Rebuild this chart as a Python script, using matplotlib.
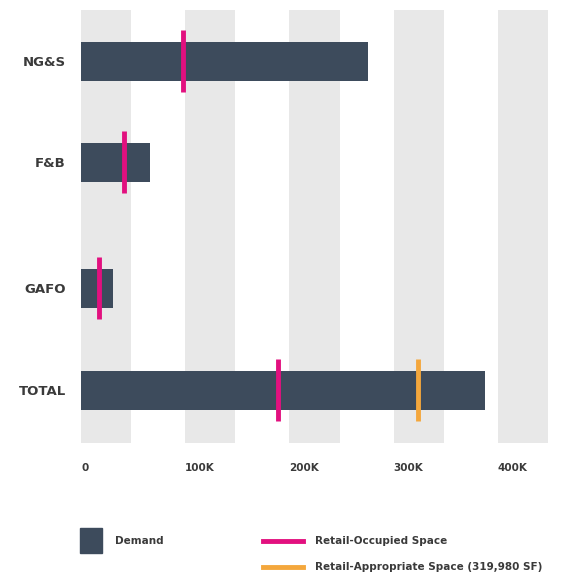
import matplotlib.pyplot as plt
from matplotlib.patches import Rectangle
from matplotlib.lines import Line2D

categories = ["NG&S", "F&B", "GAFO", "TOTAL"]
demand = [275000, 66000, 31000, 388000]
occupied = [98000, 41000, 17500, 189000]
appropriate_total = 323500  # marker as drawn (legend: 319,980 SF)
xticks = [0, 100000, 200000, 300000, 400000]
xtick_labels = ["0", "100K", "200K", "300K", "400K"]

BAR = "#3d4b5c"
PINK = "#e2107f"
ORANGE = "#f4a73c"
STRIPE = "#e8e8e8"
TXT = "#3a3a3a"

W, H = 574, 577
fig = plt.figure(figsize=(W / 100, H / 100), dpi=100)

def fx(px):
    return px / W

def fy(py):
    return 1 - py / H

# axes spans the striped area (pixel coords 81..548, 10..443)
ax = fig.add_axes([fx(81), fy(443), fx(548) - fx(81), fy(10) - fy(443)])
ax.set_xlim(0, 448000)
ax.set_ylim(433, 0)  # y in pixels from top of stripes
ypos = [51, 152, 278, 380]

for t in xticks:
    ax.axvspan(t, t + 48000, color=STRIPE, zorder=0, lw=0)

ax.barh(ypos, demand, height=39, color=BAR, zorder=2)
for y, v in zip(ypos, occupied):
    ax.plot([v, v], [y - 31, y + 31], color=PINK, lw=3.5, zorder=3,
            solid_capstyle="butt")
ax.plot([appropriate_total] * 2, [ypos[3] - 31, ypos[3] + 31], color=ORANGE,
        lw=3.5, zorder=3, solid_capstyle="butt")

ax.set_yticks(ypos)
ax.set_yticklabels(categories, fontsize=9.5, fontweight="semibold", color=TXT)
ax.set_xticks([])
ax.tick_params(axis="y", length=0, pad=11)
for s in ax.spines.values():
    s.set_visible(False)

for t, lab in zip(xticks, xtick_labels):
    ax.text(t, 458, lab, ha="left", va="center", fontsize=7.5,
            fontweight="semibold", color=TXT, clip_on=False)

# legend drawn by hand in figure coordinates
fig.add_artist(Rectangle((fx(80), fy(553)), fx(22), fy(528) - fy(553),
                         transform=fig.transFigure, color=BAR))
fig.text(fx(115), fy(541), "Demand", fontsize=7.5, fontweight="bold",
         color=TXT, va="center")
fig.add_artist(Line2D([fx(263), fx(303)], [fy(541)] * 2, color=PINK, lw=3.5,
                      transform=fig.transFigure))
fig.text(fx(315), fy(541), "Retail-Occupied Space", fontsize=7.5,
         fontweight="bold", color=TXT, va="center")
fig.add_artist(Line2D([fx(263), fx(303)], [fy(567)] * 2, color=ORANGE, lw=3.5,
                      transform=fig.transFigure))
fig.text(fx(315), fy(567), "Retail-Appropriate Space (319,980 SF)",
         fontsize=7.5, fontweight="bold", color=TXT, va="center")

fig.savefig("out.png", dpi=100)
